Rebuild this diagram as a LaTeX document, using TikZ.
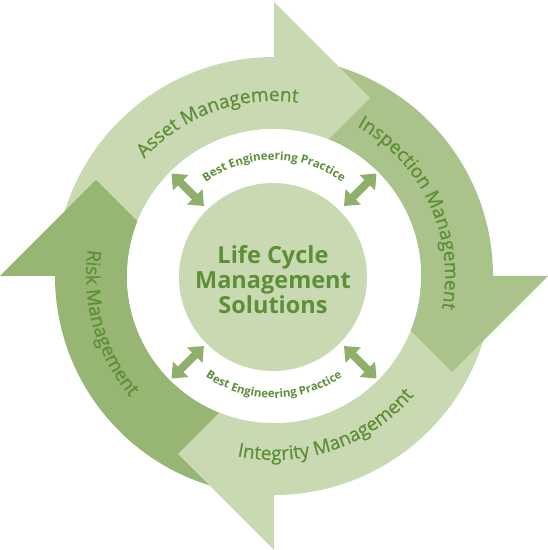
\documentclass[tikz,border=0pt]{standalone}
\usepackage{fontspec}
\setmainfont{Open Sans}
\newfontfamily\bandfont[FakeBold=0.7]{Open Sans}
\usetikzlibrary{arrows.meta,decorations.text}

\definecolor{palegreen}{HTML}{C9DAB2}
\definecolor{sagegreen}{HTML}{A9C38A}
\definecolor{mossgreen}{HTML}{97B573}
\definecolor{tipgreen}{HTML}{8FB06A}
\definecolor{labelgreen}{HTML}{5E8F38}

\tikzset{
  dblarrow/.style={tipgreen, line width=8pt,
    {Triangle[width=21pt,length=13pt]}-{Triangle[width=21pt,length=13pt]}},
  bandlabel/.style={decorate, decoration={text along path, text align=center,
    text color=labelgreen, text={|\bandfont\fontsize{19}{20}\selectfont|#1}}},
  bestlabel/.style={decorate, decoration={text along path, text align=center,
    text color=labelgreen, text={|\bfseries\fontsize{11.5}{12}\selectfont|#1}}}
}

\begin{document}
\begin{tikzpicture}[x=1pt,y=1pt]
  \useasboundingbox (0,0) rectangle (548,550);
  \begin{scope}[shift={(274,274)}]
    % Draw the four bands
    \foreach \ang/\col in {90/palegreen, 0/sagegreen, -90/palegreen, 180/mossgreen}
      \fill[\col] (\ang+90:219) arc[start angle=\ang+90, end angle=\ang, radius=219]
        -- (\ang:147) arc[start angle=\ang, end angle=\ang+90, radius=147] -- cycle;
    % Draw the heads
    \foreach \ang/\col in {90/palegreen, 0/sagegreen, -90/palegreen, 180/mossgreen}
      \fill[\col, rotate=\ang-90] (0,274) -- (96,178) -- (0,82) -- cycle;
    \fill[white] (0,0) circle (147);

    % Centre disc
    \fill[palegreen] (-1,-1) circle (94);
    \node[text=labelgreen, font=\bfseries\fontsize{23.5}{25}\selectfont, align=center]
      (lcm) at (-1,-4) {Life Cycle\\Management\\Solutions};

    % Small arrows
    \foreach \ang/\nm in {135/nw, 45/ne, 225/sw, -45/se} {
      \coordinate (\nm-in) at (\ang:99);
      \coordinate (\nm-out) at (\ang:145);
      \draw[dblarrow] (\nm-in) -- (\nm-out);
    }

    % Labels
    \path[bandlabel=Asset Management] (160:175) arc[start angle=160, end angle=60, radius=175];
    \path[bandlabel=Inspection Management] (75:171) arc[start angle=75, end angle=-25, radius=171];
    \path[bandlabel=Integrity Management] (239:184) arc[start angle=239, end angle=339, radius=184];
    \path[bandlabel=Risk Management] (146:188) arc[start angle=146, end angle=246, radius=188];
    \path[bestlabel=Best Engineering Practice] (135:116) arc[start angle=135, end angle=45, radius=116];
    \path[bestlabel=Best Engineering Practice] (225:122) arc[start angle=225, end angle=315, radius=122];
  \end{scope}
\end{tikzpicture}
\end{document}
